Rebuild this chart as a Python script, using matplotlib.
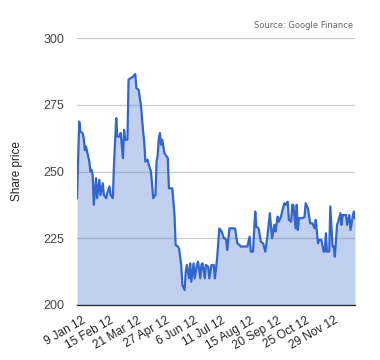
import matplotlib.pyplot as plt

# trading-day index (0 = first day of 2012) and closing share price
day = [0, 2, 3, 5, 6, 7, 8, 9, 11, 12, 13, 14, 15, 17, 18, 20, 21, 23, 24, 26,
       27, 29, 30, 32, 33, 35, 36, 38, 39, 41, 42, 43, 45, 46, 48, 50, 52, 53, 55, 57,
       59, 60, 61, 63, 64, 66, 68, 70, 71, 72, 73, 74, 75, 76, 78, 79, 81, 82, 85, 87,
       88, 90, 91, 93, 94, 96, 97, 98, 100, 101, 102, 104, 105, 107, 108, 110, 111, 112, 114, 115,
       117, 118, 120, 122, 123, 125, 127, 129, 131, 132, 133, 134, 136, 138, 141, 143, 145, 146, 151, 152,
       154, 155, 157, 159, 160, 162, 164, 166, 168, 170, 172, 174, 176, 177, 179, 180, 182, 183, 185, 186,
       188, 189, 191, 192, 193, 195, 196, 197, 198, 201, 203, 204, 206, 208, 210, 212, 213, 215, 216, 218,
       220, 221, 222, 223, 225, 226, 228, 229, 230, 232, 233, 235, 236, 237, 239, 240, 241, 243, 244, 246,
       247, 248]
price = [240.0, 268.7, 265.0, 264.4, 262.5, 258.0, 259.4, 257.5, 253.7, 250.0, 250.6, 248.7, 237.5, 247.5, 240.0, 246.9, 241.2, 245.6, 241.2, 240.0,
         241.9, 244.4, 241.2, 240.0, 252.5, 270.0, 263.1, 263.1, 264.4, 255.0, 265.6, 261.9, 261.9, 284.4, 285.0, 285.5, 286.5, 281.2, 280.6, 275.0,
         265.0, 261.0, 253.7, 254.4, 252.5, 250.0, 240.0, 241.2, 253.7, 256.2, 262.5, 264.4, 260.0, 261.9, 256.9, 256.2, 255.0, 243.7, 243.7, 233.7,
         222.5, 221.9, 221.2, 215.0, 207.5, 205.6, 212.5, 215.0, 210.0, 215.6, 208.7, 215.6, 210.0, 215.0, 216.2, 210.0, 215.0, 215.6, 210.0, 215.0,
         214.4, 210.0, 215.0, 215.0, 210.0, 217.5, 228.7, 227.5, 225.0, 225.0, 224.4, 220.6, 228.7, 228.7, 228.7, 223.1, 222.5, 221.9, 221.9, 221.9,
         225.6, 220.0, 220.0, 235.0, 229.4, 228.7, 223.7, 223.1, 220.0, 226.2, 234.4, 225.0, 230.0, 227.5, 233.1, 231.2, 233.1, 235.0, 238.1, 237.5,
         238.7, 231.9, 231.2, 237.5, 237.5, 228.7, 237.5, 228.1, 232.5, 232.5, 233.0, 238.1, 236.2, 230.6, 230.6, 228.7, 231.9, 223.1, 224.4, 224.4,
         220.0, 220.0, 226.9, 220.0, 220.0, 236.9, 221.9, 221.9, 218.1, 230.0, 231.2, 234.4, 230.0, 233.7, 233.7, 233.7, 230.0, 233.7, 228.1, 233.1,
         235.0, 232.5]

tick_days = [4, 29, 54, 79, 104, 129, 154, 179, 204, 229]
tick_labels = ["9 Jan 12", "15 Feb 12", "21 Mar 12", "27 Apr 12", "6 Jun 12",
               "11 Jul 12", "15 Aug 12", "20 Sep 12", "25 Oct 12", "29 Nov 12"]
y_ticks = [200, 225, 250, 275, 300]

plt.rcParams['font.family'] = ['Liberation Sans', 'DejaVu Sans']

fig = plt.figure(figsize=(3.8, 3.6), dpi=100)
ax = fig.add_axes([0.2026, 0.1528, 0.7316, 0.7416])

# gridlines first, then the translucent area over them, like Google Charts
ax.grid(axis='y', color='#cccccc', linewidth=0.9, zorder=0)
ax.set_axisbelow(True)
ax.fill_between(day, price, 200, color='#3366cc', alpha=0.3, linewidth=0, zorder=1)
ax.plot(day, price, color='#3366cc', linewidth=1.6, zorder=3)

ax.set_xlim(0, 248)
ax.set_ylim(200, 300)
ax.set_yticks(y_ticks)
ax.set_yticklabels([str(v) for v in y_ticks], fontsize=9, color='#444444')
ax.set_xticks(tick_days)
ax.set_xticklabels(tick_labels, rotation=30, ha='right', rotation_mode='anchor',
                   fontsize=8.5, color='#222222')
ax.tick_params(axis='both', length=0)
ax.tick_params(axis='y', pad=9)
ax.tick_params(axis='x', pad=7)

for s in ['top', 'right', 'left']:
    ax.spines[s].set_visible(False)
ax.spines['bottom'].set_color('#333333')
ax.spines['bottom'].set_linewidth(1.0)
ax.spines['bottom'].set_zorder(4)

ax.set_ylabel("Share price", fontsize=8.5, color='#222222', labelpad=15)

fig.text(0.929, 0.918, "Source: Google Finance", ha='right', va='bottom',
         fontsize=6, color='#666666', family='DejaVu Sans')

fig.savefig("out.png", dpi=100)
